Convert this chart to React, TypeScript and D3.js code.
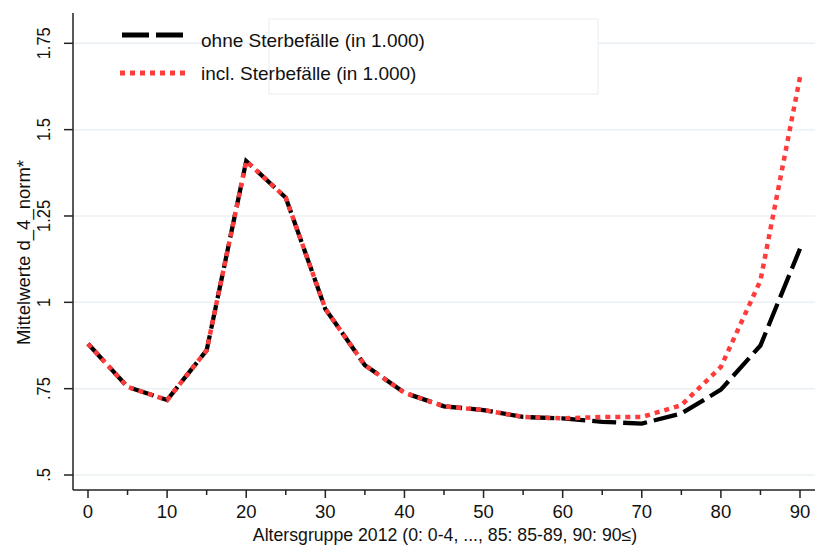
import { useEffect, useRef } from 'react';
import * as d3 from 'd3';

// age groups (start of 5-year band)
const ageGroups = [0, 5, 10, 15, 20, 25, 30, 35, 40, 45, 50, 55, 60, 65, 70, 75, 80, 85, 90];
// mean d_4_norm without deaths
const ohneValues = [0.880, 0.755, 0.717, 0.861, 1.409, 1.303, 0.981, 0.818, 0.738, 0.699, 0.688, 0.668, 0.664, 0.654, 0.649, 0.678, 0.747, 0.875, 1.155];
// mean d_4_norm including deaths
const inclValues = [0.880, 0.755, 0.717, 0.861, 1.409, 1.303, 0.981, 0.818, 0.738, 0.699, 0.688, 0.668, 0.664, 0.668, 0.668, 0.702, 0.813, 1.063, 1.652];

const yTicks = [0.5, 0.75, 1, 1.25, 1.5, 1.75];
const yTickLabels = ['.5', '.75', '1', '1.25', '1.5', '1.75'];
const xMajorTicks = [0, 10, 20, 30, 40, 50, 60, 70, 80, 90];
const xMinorTicks = [5, 15, 25, 35, 45, 55, 65, 75, 85];

const legendLabels = ['ohne Sterbefälle (in 1.000)', 'incl. Sterbefälle (in 1.000)'];

const FONT = '"Liberation Sans", Arial, sans-serif';
const RED = '#ff3b3b';

export default function App() {
  const svgRef = useRef<SVGSVGElement>(null);

  useEffect(() => {
    if (!svgRef.current) return;
    const svg = d3.select(svgRef.current);
    svg.selectAll('*').remove();

    const left = 73, right = 815, top = 13, bottom = 490;

    const x = d3.scaleLinear().domain([0, 90]).range([88, 800]);
    const y = d3.scaleLinear().domain([0.5, 1.75]).range([475, 43.3]);

    // gridlines
    svg.append('g')
      .selectAll('line')
      .data(yTicks)
      .enter().append('line')
      .attr('x1', left).attr('x2', right)
      .attr('y1', d => y(d)).attr('y2', d => y(d))
      .attr('stroke', '#eaf0f4')
      .attr('stroke-width', 1.5);

    // legend box (white, drawn over grid)
    svg.append('rect')
      .attr('x', 269).attr('y', 19)
      .attr('width', 329).attr('height', 75)
      .attr('fill', '#fff')
      .attr('stroke', '#e8eef2')
      .attr('stroke-width', 1);

    // axes
    const axisColor = '#222';
    svg.append('line')
      .attr('x1', left).attr('x2', left).attr('y1', top).attr('y2', bottom)
      .attr('stroke', axisColor).attr('stroke-width', 1.5);
    svg.append('line')
      .attr('x1', left).attr('x2', right).attr('y1', bottom).attr('y2', bottom)
      .attr('stroke', axisColor).attr('stroke-width', 1.5);

    // y ticks
    const yt = svg.append('g');
    yt.selectAll('line')
      .data(yTicks)
      .enter().append('line')
      .attr('x1', left - 9).attr('x2', left)
      .attr('y1', d => y(d)).attr('y2', d => y(d))
      .attr('stroke', axisColor).attr('stroke-width', 1.5);
    yt.selectAll('text')
      .data(yTicks)
      .enter().append('text')
      .attr('transform', d => `translate(50,${y(d)}) rotate(-90) scale(1,1.15)`)
      .attr('text-anchor', 'middle')
      .attr('font-family', FONT)
      .attr('font-size', 16.5)
      .attr('fill', '#111')
      .text((d, i) => yTickLabels[i]);

    // x ticks
    const xt = svg.append('g');
    xt.selectAll('line.major')
      .data(xMajorTicks)
      .enter().append('line')
      .attr('class', 'major')
      .attr('x1', d => x(d)).attr('x2', d => x(d))
      .attr('y1', bottom).attr('y2', bottom + 8)
      .attr('stroke', axisColor).attr('stroke-width', 1.5);
    xt.selectAll('line.minor')
      .data(xMinorTicks)
      .enter().append('line')
      .attr('class', 'minor')
      .attr('x1', d => x(d)).attr('x2', d => x(d))
      .attr('y1', bottom).attr('y2', bottom + 5)
      .attr('stroke', axisColor).attr('stroke-width', 1.5);
    xt.selectAll('text')
      .data(xMajorTicks)
      .enter().append('text')
      .attr('x', d => x(d)).attr('y', 518)
      .attr('text-anchor', 'middle')
      .attr('font-family', FONT)
      .attr('font-size', 18.5)
      .attr('fill', '#111')
      .text(d => d);

    // axis titles
    svg.append('text')
      .attr('x', (left + right) / 2 + 1).attr('y', 541)
      .attr('text-anchor', 'middle')
      .attr('font-family', FONT)
      .attr('font-size', 17.7)
      .attr('fill', '#111')
      .text('Altersgruppe 2012 (0: 0-4, ..., 85: 85-89, 90: 90≤)');
    svg.append('text')
      .attr('transform', `translate(30,${(top + bottom) / 2 + 1}) rotate(-90)`)
      .attr('text-anchor', 'middle')
      .attr('font-family', FONT)
      .attr('font-size', 18.5)
      .attr('fill', '#111')
      .text('Mittelwerte d_4_norm*');

    // lines
    const line = d3.line<number>()
      .x((d, i) => x(ageGroups[i]))
      .y(d => y(d));

    svg.append('path')
      .datum(ohneValues)
      .attr('d', line)
      .attr('fill', 'none')
      .attr('stroke', '#000')
      .attr('stroke-width', 4.3)
      .attr('stroke-dasharray', '24 7');

    svg.append('path')
      .datum(inclValues)
      .attr('d', line)
      .attr('fill', 'none')
      .attr('stroke', RED)
      .attr('stroke-width', 4.5)
      .attr('stroke-dasharray', '5 5');

    // legend keys
    svg.append('line')
      .attr('x1', 122).attr('x2', 184).attr('y1', 35).attr('y2', 35)
      .attr('stroke', '#000').attr('stroke-width', 5)
      .attr('stroke-dasharray', '27 7');
    svg.append('line')
      .attr('x1', 120).attr('x2', 187).attr('y1', 73).attr('y2', 73)
      .attr('stroke', RED).attr('stroke-width', 5)
      .attr('stroke-dasharray', '5 5');

    svg.append('g')
      .selectAll('text')
      .data(legendLabels)
      .enter().append('text')
      .attr('x', 201)
      .attr('y', (d, i) => 47 + i * 33)
      .attr('font-family', FONT)
      .attr('font-size', 19)
      .attr('fill', '#111')
      .text(d => d);
  }, []);

  return (
    <svg
      ref={svgRef}
      width={824}
      height={548}
      style={{ position: 'absolute', left: 0, top: 0, background: '#fff' }}
    />
  );
}
